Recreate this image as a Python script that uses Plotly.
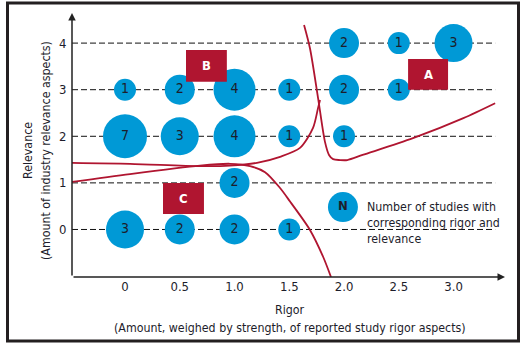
import plotly.graph_objects as go

# Studies plotted by rigor (x) and relevance (y); count = number of studies
rigor = [2.0, 2.5, 3.0,
         0.0, 0.5, 1.0, 1.5, 2.0, 2.5,
         0.0, 0.5, 1.0, 1.5, 2.0,
         1.0,
         0.0, 0.5, 1.0, 1.5]
relevance = [4, 4, 4,
             3, 3, 3, 3, 3, 3,
             2, 2, 2, 2, 2,
             1,
             0, 0, 0, 0]
counts = [2, 1, 3,
          1, 2, 4, 1, 2, 1,
          7, 3, 4, 1, 1,
          2,
          3, 2, 2, 1]

x_ticks = [0, 0.5, 1.0, 1.5, 2.0, 2.5, 3.0]
x_tick_text = ["0", "0.5", "1.0", "1.5", "2.0", "2.5", "3.0"]
y_ticks = [0, 1, 2, 3, 4]

# Hand-drawn boundary curves separating regions A, B and C
curve_right_x = [1.635, 1.689, 1.763, 1.826, 1.863, 1.900, 1.963, 2.03, 2.17, 2.63, 3.09, 3.38]
curve_right_y = [4.39, 3.89, 2.82, 1.88, 1.60, 1.51, 1.49, 1.49, 1.60, 1.96, 2.39, 2.71]
curve_left_x = [-0.484, 0.046, 0.685, 0.959, 1.205, 1.416, 1.598, 1.717, 1.763, 1.781]
curve_left_y = [1.43, 1.41, 1.36, 1.37, 1.43, 1.56, 1.75, 2.18, 2.61, 2.78]
curve_down_x = [-0.484, 0.046, 0.685, 0.959, 1.142, 1.279, 1.416, 1.507, 1.689, 1.808, 1.881]
curve_down_y = [1.02, 1.19, 1.37, 1.41, 1.36, 1.23, 0.89, 0.60, -0.01, -0.58, -1.02]

BLUE = "#0099D6"
RED = "#B01530"
INK = "#1d1d2b"
FONT = "DejaVu Sans Condensed, Liberation Sans Narrow, sans-serif"
TXT = 12.3

# marker diameter (px) used for each study count
DIAMETER = {1: 22, 2: 30, 3: 38, 4: 42, 7: 44}

X_MIN, X_MAX = -0.484, 3.47
Y_MIN, Y_MAX = -1.02, 4.646
GRID_END = 3.38

fig = go.Figure()

# dashed reference lines at each relevance level
shapes = []
for yv in y_ticks:
    shapes.append(dict(type="line", xref="x", yref="y", x0=X_MIN, x1=GRID_END, y0=yv, y1=yv,
                       line=dict(color="#111111", width=1, dash="6px,3px"), layer="below"))

# region boxes
zones = [("A", 2.585, 2.95, 3.0, 3.66), ("B", 0.557, 0.93, 3.17, 3.85), ("C", 0.347, 0.721, 0.33, 1.0)]
annotations = []
for label, x0, x1, y0, y1 in zones:
    shapes.append(dict(type="rect", xref="x", yref="y", x0=x0, x1=x1, y0=y0, y1=y1,
                       fillcolor=RED, line=dict(width=0), layer="above"))
    annotations.append(dict(x=(x0 + x1) / 2, y=(y0 + y1) / 2, xref="x", yref="y", text=f"<b>{label}</b>",
                            xanchor="center", yanchor="middle",
                            showarrow=False, font=dict(family=FONT, size=13, color="white")))


# pixel -> paper helpers (plot area spans x 72..505, y 13..277)
def px_x(p):
    return (p - 72) / 433.0


def px_y(p):
    return (277 - p) / 264.0


# outer frame
shapes.append(dict(type="rect", xref="paper", yref="paper", x0=px_x(7.5), x1=px_x(518.5),
                   y0=px_y(341), y1=px_y(3), line=dict(color="#231F20", width=3), fillcolor="rgba(0,0,0,0)"))

for cx, cy in [(curve_right_x, curve_right_y), (curve_left_x, curve_left_y), (curve_down_x, curve_down_y)]:
    fig.add_trace(go.Scatter(x=cx, y=cy, mode="lines", line=dict(color=RED, width=1.8, shape="spline", smoothing=0.8),
                             hoverinfo="skip", showlegend=False, cliponaxis=True))

fig.add_trace(go.Scatter(
    x=rigor, y=relevance, mode="markers+text",
    marker=dict(size=[DIAMETER[c] for c in counts], color=BLUE, line=dict(width=0), opacity=1),
    text=[str(c) for c in counts], textposition="middle center",
    textfont=dict(family=FONT, size=14, color=INK),
    hoverinfo="skip", showlegend=False, cliponaxis=False))

# key bubble
fig.add_trace(go.Scatter(
    x=[1.99], y=[0.48], mode="markers+text",
    marker=dict(size=DIAMETER[2], color=BLUE, line=dict(width=0)),
    text=["<b>N</b>"], textposition="middle center",
    textfont=dict(family=FONT, size=13, color=INK), hoverinfo="skip", showlegend=False))
annotations.append(dict(x=px_x(365), y=px_y(223), xref="paper", yref="paper", xanchor="left", yanchor="middle",
                        align="left", showarrow=False,
                        text="Number of studies with<br>corresponding rigor and<br>relevance",
                        font=dict(family=FONT, size=TXT, color=INK)))

# axis arrows
annotations.append(dict(x=X_MIN, y=Y_MAX, ax=X_MIN, ay=Y_MIN, xref="x", yref="y", axref="x", ayref="y",
                        showarrow=True, arrowhead=2, arrowsize=1, arrowwidth=1.5, arrowcolor="#222222", text=""))
annotations.append(dict(x=X_MAX, y=Y_MIN, ax=X_MIN, ay=Y_MIN, xref="x", yref="y", axref="x", ayref="y",
                        showarrow=True, arrowhead=2, arrowsize=1, arrowwidth=1.5, arrowcolor="#222222", text=""))

# axis titles
for text, py in [("Rigor", 310), ("(Amount, weighed by strength, of reported study rigor aspects)", 328)]:
    annotations.append(dict(x=px_x(290), y=px_y(py), xref="paper", yref="paper", showarrow=False,
                            xanchor="center", yanchor="middle", text=text,
                            font=dict(family=FONT, size=TXT, color=INK)))
for text, px in [("Relevance", 28), ("(Amount of industry relevance aspects)", 46)]:
    annotations.append(dict(x=px_x(px), y=px_y(151), xref="paper", yref="paper", showarrow=False,
                            xanchor="center", yanchor="middle", textangle=-90, text=text,
                            font=dict(family=FONT, size=TXT, color=INK)))

fig.update_layout(
    width=526, height=349,
    margin=dict(l=72, r=21, t=13, b=72),
    paper_bgcolor="white", plot_bgcolor="white",
    shapes=shapes, annotations=annotations,
    font=dict(family=FONT, size=TXT, color=INK),
    xaxis=dict(range=[X_MIN, X_MAX], showgrid=False, zeroline=False, showline=False,
               tickvals=x_ticks, ticktext=x_tick_text, ticks="", ticklen=0,
               tickfont=dict(family=FONT, size=13, color=INK)),
    yaxis=dict(range=[Y_MIN, Y_MAX], showgrid=False, zeroline=False, showline=False,
               tickvals=y_ticks, ticks="outside", ticklen=2, tickcolor="rgba(0,0,0,0)",
               tickfont=dict(family=FONT, size=13, color=INK)),
)

fig.write_html("out.html")
